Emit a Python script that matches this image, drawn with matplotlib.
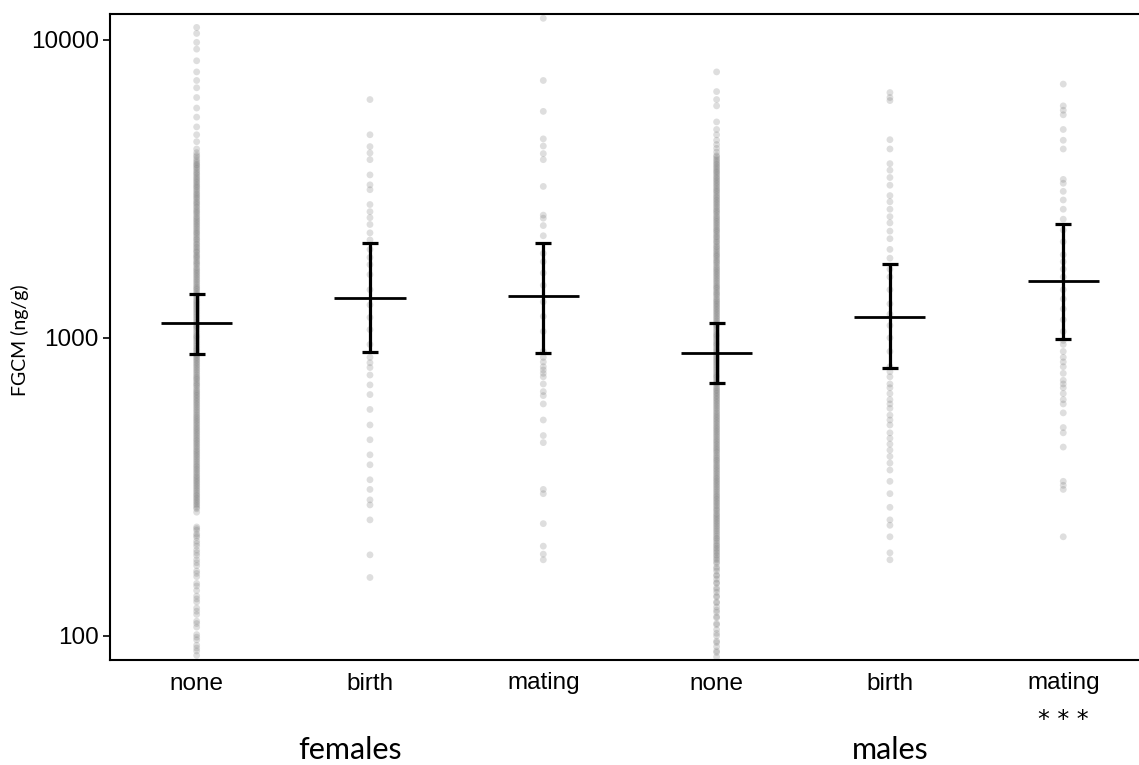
import numpy as np
import matplotlib
matplotlib.use('Agg')
from matplotlib import pyplot as plt

# Данные: группы и оценки среднего с доверительным интервалом (нг/г)
groups = ['none', 'birth', 'mating', 'none', 'birth', 'mating']
means = [1123, 1362, 1383, 890, 1176, 1553]
ci_low = [884, 897, 890, 706, 793, 993]
ci_high = [1405, 2085, 2085, 1123, 1771, 2413]

fem_none = [11000, 10500, 9800, 9300, 8500, 7800, 7300, 6900, 6400, 5900, 5500, 5100, 4800, 4550,
            4300, 4180, 4100, 3980, 3870, 3790, 3700, 3600, 3520, 3430, 3350, 3270, 3200, 3120, 3040,
            2970, 2900, 2830, 2760, 2690, 2630, 2560, 2500, 2440, 2380, 2320, 2260, 2210, 2150, 2100,
            2050, 2000, 1950, 1900, 1860, 1810, 1770, 1720, 1680, 1640, 1600, 1560, 1520, 1480, 1450,
            1410, 1380, 1340, 1310, 1280, 1250, 1220, 1190, 1160, 1130, 1100, 1080, 1050, 1020, 1000,
            975, 950, 925, 905, 880, 860, 840, 820, 800, 780, 760, 740, 725, 705, 690, 670, 655, 640,
            625, 610, 595, 580, 565, 550, 537, 524, 511, 498, 486, 474, 462, 451, 440, 429, 418, 408,
            398, 388, 378, 369, 360, 351, 342, 334, 326, 318, 310, 302, 295, 288, 281, 274, 267, 260,
            232, 226, 220, 214, 208, 200, 194, 186, 180, 172, 165, 158, 150, 142, 136, 130, 124, 118,
            112, 107, 101, 97, 93, 89, 86,
            4050, 3920, 3820, 3740, 3650, 3560, 3470, 3390, 3310, 3230, 3160, 3080, 3010, 2940, 2860,
            2800, 2730, 2660, 2600, 2530, 2470, 2410, 2350, 2290, 2240, 2180, 2130, 2070, 2020, 1970,
            1930, 1880, 1840, 1790, 1750, 1700, 1660, 1620, 1580, 1540, 1500, 1465, 1430, 1395, 1360,
            1325, 1295, 1265, 1235, 1205, 1175, 1145, 1115, 1090, 1065, 1035, 1010, 988, 962, 938,
            915, 892, 870, 850, 830, 810, 790, 770, 750, 732, 715, 697, 680, 662, 647, 632, 617, 602,
            587, 572, 557, 543, 530, 517, 504, 492, 480, 468, 456, 445, 434, 423, 413, 403, 393, 383,
            373, 364, 355, 346, 338, 330, 322, 314, 306, 298, 291, 284, 277, 270,
            229, 217, 204, 190, 176, 162, 147, 133, 121, 110, 99, 91]
fem_birth = [6300, 4800, 4380, 4170, 3960, 3520, 3260, 3140, 2800, 2650, 2530, 2400, 2250, 2130,
             1980, 1860, 1760, 1630, 1450, 1290, 1170, 1065, 950, 860, 825, 795, 750, 695, 645, 575,
             510, 455, 405, 375, 334, 310, 286, 275, 245, 187, 157]
fem_mating = [11800, 7300, 5750, 4650, 4400, 4150, 3960, 3220, 2580, 2520, 2380, 2200, 1920, 1800,
              1650, 1500, 1320, 1180, 1050, 900, 860, 830, 800, 780, 760, 740, 700, 660, 640, 600,
              530, 470, 445, 310, 300, 238, 200, 188, 180]
male_none = [7800, 6700, 6300, 6000, 5300, 5000, 4800, 4600, 4450,
             4320, 4200, 4090, 3990, 3890, 3800, 3710, 3620, 3540, 3450, 3370, 3290, 3210, 3130, 3060,
             2980, 2910, 2840, 2770, 2700, 2640, 2570, 2510, 2450, 2390, 2330, 2280, 2220, 2170, 2110,
             2060, 2010, 1960, 1910, 1870, 1820, 1780, 1730, 1690, 1650, 1610, 1570, 1530, 1490, 1460,
             1420, 1390, 1350, 1320, 1290, 1260, 1230, 1200, 1170, 1140, 1110, 1090, 1060, 1030, 1010,
             985, 960, 940, 915, 895, 870, 850, 830, 810, 790, 770, 750, 735, 715, 700, 680, 665, 650,
             635, 620, 605, 590, 575, 560, 546, 533, 520, 507, 495, 483, 471, 459, 448, 437, 426, 416,
             405, 395, 386, 376, 367, 358, 349, 340, 332, 324, 316, 308, 300, 293, 286, 279, 272, 265,
             258, 252, 246, 240, 234, 228, 222, 216, 211, 205, 200, 195, 190, 185, 180, 175, 170, 165,
             160, 155, 150, 145, 140, 135, 130, 125, 120, 115, 110, 105, 100, 96, 92, 88, 85,
             4050, 3940, 3840, 3750, 3660, 3580, 3490, 3410, 3330, 3250, 3170, 3100, 3020, 2950, 2880,
             2810, 2740, 2670, 2610, 2540, 2480, 2420, 2360, 2300, 2250, 2190, 2140, 2090, 2030, 1985,
             1935, 1890, 1845, 1800, 1755, 1710, 1670, 1630, 1590, 1550, 1510, 1475, 1440, 1405, 1370,
             1335, 1305, 1275, 1245, 1215, 1185, 1155, 1125, 1100, 1075, 1045, 1020, 997, 972, 950,
             927, 905, 882, 860, 840, 820, 800, 780, 760, 742, 725, 707, 690, 672, 657, 642, 627, 612,
             597, 582, 567, 553, 540, 527, 514, 501, 489, 477, 465, 453, 442, 431, 421, 411, 400, 390,
             381, 371, 362, 353, 344, 336, 328, 320, 312, 304, 296, 289, 282, 275, 268, 262, 255, 249,
             243, 237, 231, 225, 219, 213, 208, 202, 197, 192, 187, 182,
             177, 168, 159, 151, 143, 136, 129, 122, 116, 109, 102, 95, 89]
male_birth = [6650, 6400, 6250, 4620, 4300, 3840, 3650, 3450, 3250, 3000, 2860, 2700, 2550, 2430,
              2280, 2150, 1980, 1850, 1700, 1600, 1450, 1300, 1200, 1100, 1000, 900, 800, 770, 740,
              700, 680, 650, 620, 600, 580, 550, 530, 510, 480, 460, 440, 420, 400, 380, 360, 330,
              300, 270, 245, 235, 215, 190, 180]
male_mating = [7100, 6000, 5800, 5600, 5000, 4600, 4300, 3400, 3300, 3100, 2900, 2700, 2500, 2300,
               2100, 1900, 1800, 1700, 1600, 1450, 1350, 1250, 1150, 1050, 980, 950, 900, 860, 830,
               800, 760, 720, 700, 680, 650, 620, 600, 560, 500, 480, 430, 330, 320, 310, 215]

samples = [fem_none, fem_birth, fem_mating, male_none, male_birth, male_mating]
pos = np.arange(1, len(groups) + 1)

fig = plt.figure(figsize=(11.39, 7.65), dpi=100)
ax = fig.add_axes([110 / 1139, 105 / 765, 1 - 110 / 1139, 646 / 765])

# Точки измерений
for x, vals in zip(pos, samples):
    ax.scatter(np.full(len(vals), x), vals, s=24, color='#6a6a6a', alpha=0.22,
               edgecolors='none', zorder=1)

# Среднее и доверительный интервал
means = np.array(means)
yerr = np.array([means - np.array(ci_low), np.array(ci_high) - means])
ax.errorbar(pos, means, yerr=yerr, fmt='none', ecolor='black', elinewidth=2.3,
            capsize=6, capthick=2.3, zorder=3)
ax.hlines(means, pos - 0.205, pos + 0.205, colors='black', linewidth=2.0, zorder=3)

ax.set_yscale('log')
ax.set_ylim(83, 12200)
ax.set_xlim(0.5, 6.437)
ax.set_yticks([100, 1000, 10000])
ax.set_yticklabels(['100', '1000', '10000'])
ax.minorticks_off()
ax.set_xticks(pos)
ax.set_xticklabels(groups)

for lab in ax.get_xticklabels() + ax.get_yticklabels():
    lab.set_family('Liberation Sans')
    lab.set_fontsize(17.5)
ax.tick_params(axis='x', length=0, pad=9)
ax.tick_params(axis='y', length=5, width=1.2, pad=3)

for side in ['left', 'bottom', 'top']:
    ax.spines[side].set_linewidth(1.5)
ax.spines['right'].set_visible(False)

# Подписи осей и групп
fig.text(20 / 1139, 1 - 340 / 765, 'FGCM (ng/g)', family='Lato', fontsize=14,
         rotation=90, ha='center', va='center')
fig.text(350 / 1139, 1 - 750 / 765, 'females', family='Lato', fontsize=22,
         ha='center', va='center')
fig.text(890 / 1139, 1 - 750 / 765, 'males', family='Lato', fontsize=22,
         ha='center', va='center')
fig.text(1063 / 1139, 1 - 720 / 765, '* * *', family='DejaVu Sans', fontsize=17,
         ha='center', va='center')

fig.savefig('out.png', dpi=100)
